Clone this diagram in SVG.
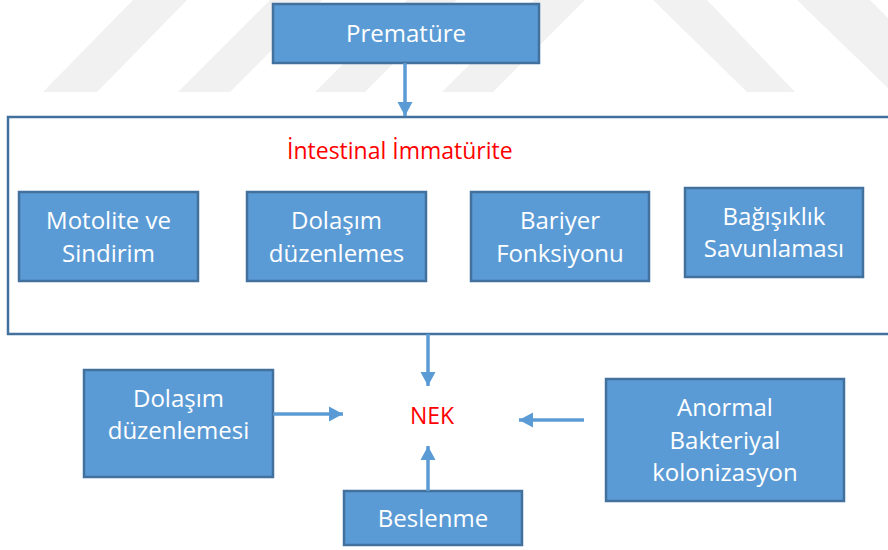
<svg xmlns="http://www.w3.org/2000/svg" width="888" height="550" viewBox="0 0 888 550">
  <defs>
    <style>
      .box { fill: #5b9bd5; stroke: #41719c; stroke-width: 2.5; }
      .frame { fill: none; stroke: #41719c; stroke-width: 2.5; }
      .lbl { font-family: "Open Sans", "Liberation Sans", sans-serif; font-size: 24px; fill: #ffffff; text-anchor: middle; }
      .red { font-family: "Open Sans", "Liberation Sans", sans-serif; font-size: 23px; fill: #ff0000; }
      .conn { stroke: #5b9bd5; stroke-width: 3.5; fill: none; marker-end: url(#ah); }
      .wm { fill: #f1f1f1; }
    </style>
    <marker id="ah" markerUnits="userSpaceOnUse" markerWidth="16" markerHeight="16" refX="14" refY="8" orient="auto">
      <path d="M0,0.5 L14,8 L0,15.5 Z" fill="#5b9bd5"/>
    </marker>
  </defs>
  <rect width="888" height="550" fill="#ffffff"/>
  <g id="watermark">
    <polygon class="wm" points="133,0 187,0 97,92 43,92"/>
    <polygon class="wm" points="270,0 322,0 230,92 178,92"/>
    <polygon class="wm" points="407,0 457,0 365,92 315,92"/>
    <polygon class="wm" points="534,0 585,0 493,92 442,92"/>
    <polygon class="wm" points="653,0 707,0 795,92 747,92"/>
    <polygon class="wm" points="797,0 870,0 888,18 888,88"/>
  </g>
  <g id="frame">
    <rect class="frame" x="8" y="117" width="890" height="217"/>
    <text class="red" x="287" y="159">İntestinal İmmatürite</text>
  </g>
  <g id="prematüre">
    <rect class="box" x="273" y="4" width="266" height="59"/>
    <text class="lbl" x="406" y="42">Prematüre</text>
  </g>
  <g id="motolite">
    <rect class="box" x="19" y="192" width="179" height="89"/>
    <text class="lbl" x="108.5" y="229">Motolite ve</text>
    <text class="lbl" x="108.5" y="262">Sindirim</text>
  </g>
  <g id="dolasim1">
    <rect class="box" x="247" y="192" width="179" height="89"/>
    <text class="lbl" x="336.5" y="229">Dolaşım</text>
    <text class="lbl" x="336.5" y="262">düzenlemes</text>
  </g>
  <g id="bariyer">
    <rect class="box" x="471" y="192" width="178" height="89"/>
    <text class="lbl" x="560" y="229">Bariyer</text>
    <text class="lbl" x="560" y="262">Fonksiyonu</text>
  </g>
  <g id="bagisiklik">
    <rect class="box" x="685" y="188" width="178" height="89"/>
    <text class="lbl" x="774" y="225">Bağışıklık</text>
    <text class="lbl" x="774" y="257">Savunlaması</text>
  </g>
  <g id="nek">
    <text class="red" x="432" y="424" text-anchor="middle">NEK</text>
  </g>
  <g id="dolasim2">
    <rect class="box" x="84" y="370" width="189" height="107"/>
    <text class="lbl" x="178.5" y="407">Dolaşım</text>
    <text class="lbl" x="178.5" y="439">düzenlemesi</text>
  </g>
  <g id="anormal">
    <rect class="box" x="606" y="379" width="238" height="122"/>
    <text class="lbl" x="725" y="416">Anormal</text>
    <text class="lbl" x="725" y="449">Bakteriyal</text>
    <text class="lbl" x="725" y="481">kolonizasyon</text>
  </g>
  <g id="beslenme">
    <rect class="box" x="344" y="491" width="178" height="54"/>
    <text class="lbl" x="433" y="527">Beslenme</text>
  </g>
  <g id="connectors">
    <line class="conn" x1="405" y1="63" x2="405" y2="116"/>
    <line class="conn" x1="428" y1="334" x2="428" y2="386"/>
    <line class="conn" x1="273" y1="414" x2="343" y2="414"/>
    <line class="conn" x1="428" y1="491" x2="428" y2="446"/>
    <line class="conn" x1="584" y1="420" x2="519" y2="420"/>
  </g>
</svg>
